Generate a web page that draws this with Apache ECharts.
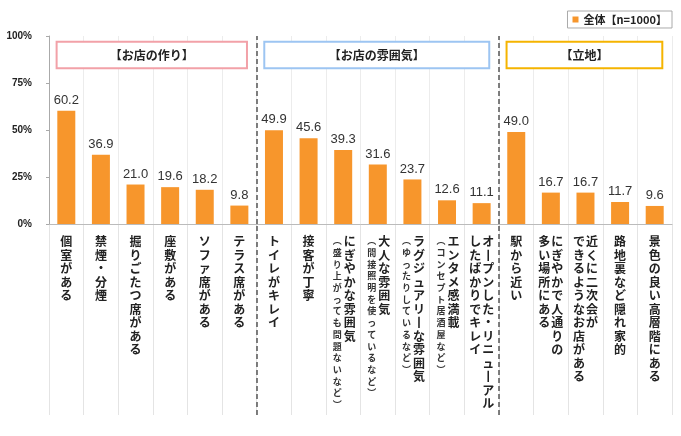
<!DOCTYPE html>
<html>
<head>
<meta charset="utf-8">
<script src="https://cdn.jsdelivr.net/npm/echarts@6/dist/echarts.min.js"></script>
<style>
html,body{margin:0;padding:0;background:#fff;}
#chart{width:681px;height:436px;}
</style>
</head>
<body>
<div id="chart"></div>
<script>
// ---- data ----
const categories = ['個室がある','禁煙・分煙','掘りごたつ席がある','座敷がある','ソファ席がある','テラス席がある',
  'トイレがキレイ','接客が丁寧','にぎやかな雰囲気（盛り上がっても問題ないなど）','大人な雰囲気（間接照明を使っているなど）',
  'ラグジュアリーな雰囲気（ゆったりしているなど）','エンタメ感満載（コンセプト居酒屋など）','オープンした・リニューアルしたばかりでキレイ',
  '駅から近い','にぎやかで人通りの多い場所にある','近くに二次会ができるようなお店がある','路地裏など隠れ家的','景色の良い高層階にある'];
const labelMain = ['個室がある','禁煙・分煙','掘りごたつ席がある','座敷がある','ソファ席がある','テラス席がある',
  'トイレがキレイ','接客が丁寧','にぎやかな雰囲気','大人な雰囲気','ラグジュアリーな雰囲気','エンタメ感満載','オープンした・リニューアル',
  '駅から近い','にぎやかで人通りの','近くに二次会が','路地裏など隠れ家的','景色の良い高層階にある'];
const labelSub = ['','','','','','',
  '','','（盛り上がっても問題ないなど）','（間接照明を使っているなど）','（ゆったりしているなど）','（コンセプト居酒屋など）','したばかりでキレイ',
  '','多い場所にある','できるようなお店がある','',''];
const values = [60.2,36.9,21.0,19.6,18.2,9.8, 49.9,45.6,39.3,31.6,23.7,12.6,11.1, 49.0,16.7,16.7,11.7,9.6];
const seriesName = '全体【n=1000】';
const groupNames = ['【お店の作り】','【お店の雰囲気】','【立地】'];
const groupSizes = [6,7,5];
const groupColors = ['#F2A1A8','#9DC5F2','#F5B400'];
const yTicks = [0,25,50,75,100];

// ---- helpers ----
const JP = '"Noto Sans CJK JP", "Noto Sans", sans-serif';
function vert(s){
  return s.replace(/[\u30FC\u2015\u2014\u2013\u2500\uFF70\uFF0D]/g,'\u4E28')
          .replace(/[\uFF08(]/g,'\uFE35').replace(/[\uFF09)]/g,'\uFE36')
          .split('').join('\n');
}
const total = categories.length;
let starts = []; let acc = 0;
groupSizes.forEach(n => { starts.push(acc); acc += n; });
const boundaries = starts.slice(1);

const areaData = groupNames.map((g,i) => [
  { name: g, coord: [starts[i] + 0.22, 97], itemStyle: { color: '#fff', borderColor: groupColors[i], borderWidth: 2 } },
  { coord: [starts[i] + groupSizes[i] - 0.28, 82.8] }
]);
const dashData = boundaries.map(b => ({ xAxis: b }));
const dashStyle = { color: '#555', width: 1.5, type: [5, 3] };

const chart = echarts.init(document.getElementById('chart'), null, { renderer: 'canvas' });
chart.setOption({
  animation: false,
  backgroundColor: '#fff',
  legend: {
    data: [seriesName],
    right: 9, top: 11,
    borderColor: '#aaa', borderWidth: 1,
    padding: [3, 5, 3, 5],
    icon: 'rect', itemWidth: 6, itemHeight: 6,
    textStyle: { fontFamily: JP, fontSize: 11, fontWeight: 'bold', color: '#222' }
  },
  grid: [
    { left: 49, right: 9, top: 36, height: 188, outerBoundsMode: 'none' },
    { left: 49, right: 9, top: 224, height: 191, outerBoundsMode: 'none' }
  ],
  xAxis: [
    { type: 'category', gridIndex: 0, data: categories, position: 'bottom', offset: 0,
      axisLine: { show: true, lineStyle: { color: '#bbb' } },
      axisTick: { show: false },
      splitLine: { show: true, interval: 0, lineStyle: { color: '#ececec' } },
      axisLabel: {
        interval: 0, margin: 11, verticalAlign: 'top',
        formatter: function (v) {
          const i = categories.indexOf(v);
          return labelSub[i] ? '{r|' + vert(labelMain[i]) + '}' : '{c|' + vert(labelMain[i]) + '}';
        },
        rich: {
          c: { fontFamily: JP, fontSize: 12, lineHeight: 13.5, fontWeight: 'bold', color: '#222' },
          r: { fontFamily: JP, fontSize: 12, lineHeight: 13.5, fontWeight: 'bold', color: '#222', padding: [0, 0, 0, 13] }
        }
      }
    },
    { type: 'category', gridIndex: 0, data: categories, position: 'bottom', offset: 0,
      axisLine: { show: false }, axisTick: { show: false }, splitLine: { show: false },
      axisLabel: {
        interval: 0, margin: 11, verticalAlign: 'top',
        formatter: function (v) {
          const i = categories.indexOf(v);
          const s = labelSub[i];
          if (!s) return '';
          return s.charAt(0) === '（' ? '{s|' + vert(s) + '}' : '{l|' + vert(s) + '}';
        },
        rich: {
          l: { fontFamily: JP, fontSize: 12, lineHeight: 13.5, fontWeight: 'bold', color: '#222', padding: [0, 13, 0, 0] },
          s: { fontFamily: JP, fontSize: 9, lineHeight: 11.7, fontWeight: 'bold', color: '#333', padding: [0, 12, 0, 0] }
        }
      }
    },
    { type: 'value', gridIndex: 0, min: 0, max: total, show: false },
    { type: 'category', gridIndex: 1, data: categories,
      axisLine: { show: false }, axisTick: { show: false }, axisLabel: { show: false },
      splitLine: { show: true, interval: 0, lineStyle: { color: '#e4e4e4' } }
    },
    { type: 'value', gridIndex: 1, min: 0, max: total, show: false }
  ],
  yAxis: [
    { type: 'value', gridIndex: 0, min: 0, max: 100, interval: 25,
      axisLine: { show: true, lineStyle: { color: '#aaa' } },
      axisTick: { show: true, length: 3, lineStyle: { color: '#aaa' } },
      splitLine: { show: false },
      axisLabel: { margin: 17, fontSize: 10, fontWeight: 'bold', color: '#222', fontFamily: 'Liberation Sans, Arial, sans-serif',
        customValues: yTicks, formatter: v => v + '%' }
    },
    { type: 'value', gridIndex: 1, min: 0, max: 1, show: false }
  ],
  series: [
    { name: seriesName, type: 'bar', xAxisIndex: 0, yAxisIndex: 0, data: values, barWidth: 18,
      itemStyle: { color: '#F7962C' },
      label: { show: true, position: 'top', distance: 4, fontSize: 13, color: '#333',
        fontFamily: 'Liberation Sans, Arial, sans-serif', formatter: p => p.value.toFixed(1) }
    },
    { type: 'scatter', xAxisIndex: 2, yAxisIndex: 0, data: [], silent: true,
      markArea: { silent: true, data: areaData,
        label: { show: true, position: 'inside', fontFamily: JP, fontSize: 12, fontWeight: 'bold', color: '#222' } },
      markLine: { silent: true, symbol: 'none', label: { show: false }, lineStyle: dashStyle, data: dashData }
    },
    { type: 'scatter', xAxisIndex: 4, yAxisIndex: 1, data: [], silent: true,
      markLine: { silent: true, symbol: 'none', label: { show: false }, lineStyle: dashStyle, data: dashData }
    }
  ]
});
</script>
</body>
</html>
